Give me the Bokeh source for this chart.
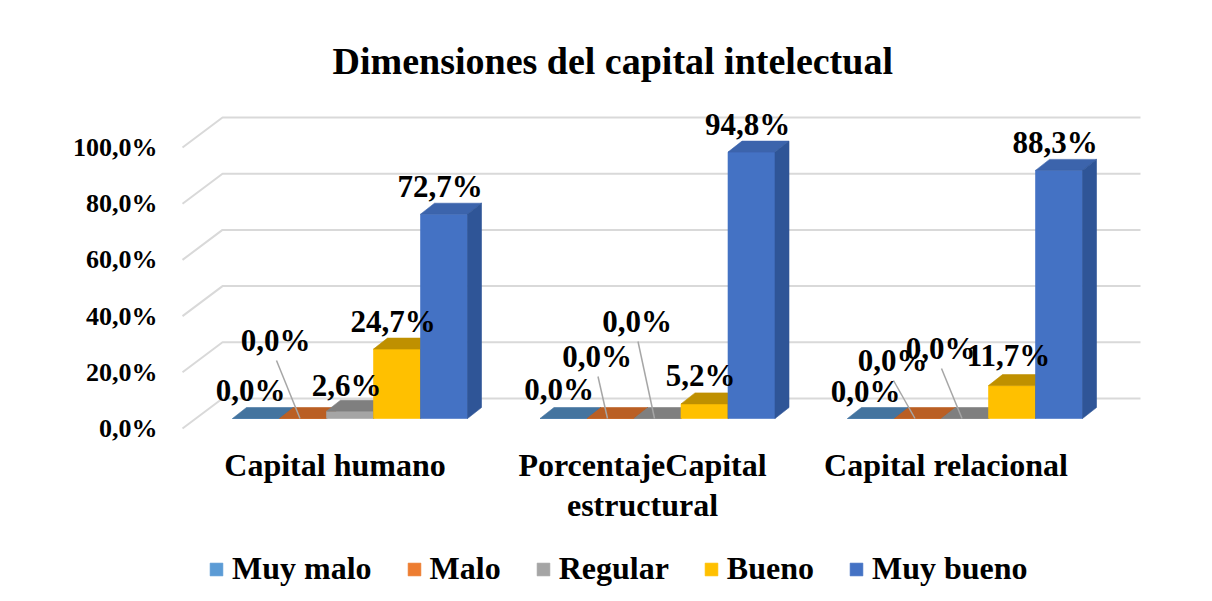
from bokeh.plotting import figure
from bokeh.models import Range1d, LinearAxis, FixedTicker, Legend, LegendItem, ColumnDataSource
from bokeh.core.properties import value
from bokeh.embed import file_html
from bokeh.resources import INLINE

# ---------------- data ----------------
categories = ["Capital humano", "PorcentajeCapital\nestructural", "Capital  relacional"]
series_names = ["Muy malo", "Malo", "Regular", "Bueno", "Muy bueno"]
muy_malo = [0.0, 0.0, 0.0]
malo = [0.0, 0.0, 0.0]
regular = [2.6, 0.0, 0.0]
bueno = [24.7, 5.2, 11.7]
muy_bueno = [72.7, 94.8, 88.3]
series_values = [muy_malo, malo, regular, bueno, muy_bueno]
y_ticks = [0, 20, 40, 60, 80, 100]
y_tick_labels = ["0,0%", "20,0%", "40,0%", "60,0%", "80,0%", "100,0%"]

# ---------------- styles ----------------
front_colors = ["#5B9BD5", "#ED7D31", "#A5A5A5", "#FFC000", "#4472C4"]
top_colors = ["#44749F", "#BA5F24", "#7F7F7F", "#BF9000", "#3C64AC"]
side_colors = ["#3A6690", "#A4541F", "#6E6E6E", "#A67D00", "#2F5597"]
FONT = value("Liberation Serif")

# label nudges (screen px) for labels Excel moved to avoid overlap
label_nudge_x = [[-1.5, -0.5, -1.5], [-23.5, -9.5, -21.5], [0.5, -16.5, -20.5], [0, 0, 0.5], [0, 0, 0]]
label_nudge_y = [[0, -1, 1], [-50, -34, -30], [2, -69, -42], [0, 0, -2], [0, 0, 0]]

# ---------------- geometry (pixel scale of the pseudo-3D view) ----------------
PX_X = 47.0      # px per bar width
PX_Y = 2.81      # px per percent
GROUP_STEP = 307.5 / PX_X
DEPTH_X = 14 / PX_X
DEPTH_Y = 11 / PX_Y
WALL_FRONT_DY = -10 / PX_Y
WALL_BACK_DY = 20 / PX_Y
WALL_X_FRONT = -50 / PX_X
WALL_X_BACK = -10 / PX_X
WALL_X_RIGHT = 908 / PX_X

W, H = 1204, 593
FL, FT = 175, 98          # frame left / top
X0, Y0 = 232, 418         # where bar 0 starts / value 0 sits
x_start, x_end = (FL - X0) / PX_X, (W - X0) / PX_X
y_start, y_end = (Y0 - H) / PX_Y, (Y0 - FT) / PX_Y

p = figure(width=W, height=H, output_backend="svg", toolbar_location=None,
           x_range=Range1d(x_start, x_end), y_range=Range1d(y_start, y_end),
           x_axis_location=None, y_axis_location=None,
           min_border_left=FL, min_border_right=0, min_border_top=FT, min_border_bottom=0)
p.outline_line_color = None
p.background_fill_color = "white"
p.border_fill_color = "white"
p.grid.visible = False

# title
p.title.text = "Dimensiones del capital intelectual"
p.title.text_font = "Liberation Serif"
p.title.text_font_style = "bold"
p.title.text_font_size = "38px"
p.title.text_color = "black"
p.title.align = "left"
p.title.offset = 157
p.title.standoff = 33

# y axis on the front wall
p.extra_y_ranges = {"front": Range1d(y_start - WALL_FRONT_DY, y_end - WALL_FRONT_DY)}
yaxis = LinearAxis(y_range_name="front", ticker=FixedTicker(ticks=y_ticks))
yaxis.major_label_overrides = {t: l for t, l in zip(y_ticks, y_tick_labels)}
yaxis.axis_line_color = None
yaxis.major_tick_line_color = None
yaxis.minor_tick_line_color = None
yaxis.major_tick_out = 0
yaxis.major_tick_in = 0
yaxis.major_label_standoff = 18
yaxis.major_label_text_font = "Liberation Serif"
yaxis.major_label_text_font_style = "bold"
yaxis.major_label_text_font_size = "26px"
yaxis.major_label_text_color = "black"
p.add_layout(yaxis, "left")

# gridlines: side wall diagonal + back wall horizontal
grid_xs = [[WALL_X_FRONT, WALL_X_BACK, WALL_X_RIGHT] for t in y_ticks]
grid_ys = [[t + WALL_FRONT_DY, t + WALL_BACK_DY, t + WALL_BACK_DY] for t in y_ticks]
p.multi_line(grid_xs, grid_ys, line_color="#D9D9D9", line_width=2)

# bars
legend_items = []
for j, (name, vals) in enumerate(zip(series_names, series_values)):
    lefts = [g * GROUP_STEP + j for g in range(len(categories))]
    centers = [l + 0.5 for l in lefts]
    r = p.vbar(x=centers, top=vals, bottom=0, width=1.0,
               fill_color=front_colors[j], line_color=front_colors[j], line_width=0.6)
    legend_items.append(LegendItem(label=name, renderers=[r]))
    top_xs = [[l, l + 1, l + 1 + DEPTH_X, l + DEPTH_X] for l in lefts]
    top_ys = [[v, v, v + DEPTH_Y, v + DEPTH_Y] for v in vals]
    p.patches(top_xs, top_ys, fill_color=top_colors[j], line_color=top_colors[j], line_width=0.6)
    side_xs = [[l + 1, l + 1, l + 1 + DEPTH_X, l + 1 + DEPTH_X] for l in lefts]
    side_ys = [[0, v, v + DEPTH_Y, DEPTH_Y] for v in vals]
    p.patches(side_xs, side_ys, fill_color=side_colors[j], line_color=side_colors[j], line_width=0.6)

# data labels + leader lines
lx, ly, ltext, xo, yo = [], [], [], [], []
sx0, sy0, sx1, sy1 = [], [], [], []
for j, vals in enumerate(series_values):
    for g, v in enumerate(vals):
        c = g * GROUP_STEP + j + 0.5
        nx, ny = label_nudge_x[j][g], label_nudge_y[j][g]
        lx.append(c)
        ly.append(v)
        ltext.append(f"{v:.1f}%".replace(".", ","))
        xo.append(-4 + nx)
        yo.append(-28 + ny)
        if ny < -20:
            sx0.append(c + (-4 + nx + 1) / PX_X)
            sy0.append(v - (-28 + ny + 20) / PX_Y)
            sx1.append(c - 3 / PX_X)
            sy1.append(v)
p.segment(x0=sx0, y0=sy0, x1=sx1, y1=sy1, line_color="#A6A6A6", line_width=1.5)
lab_src = ColumnDataSource(dict(x=lx, y=ly, text=ltext, xo=xo, yo=yo))
p.text(x="x", y="y", text="text", x_offset="xo", y_offset="yo", source=lab_src,
       text_font=FONT, text_font_style="bold", text_font_size="31px",
       text_align="center", text_baseline="middle", text_color="black")

# category labels
cat_x = [g * GROUP_STEP + 2.5 - 15 / PX_X for g in range(len(categories))]
p.text(x=cat_x, y=[0] * len(categories), text=categories, y_offset=28,
       text_font=FONT, text_font_style="bold", text_font_size="32px",
       text_align="center", text_baseline="top", text_line_height=1.12, text_color="black")

legend = Legend(items=legend_items, orientation="horizontal", location=(33, 6),
                glyph_width=16, glyph_height=16, label_standoff=8, spacing=34,
                padding=0, margin=0, border_line_color=None, background_fill_alpha=0,
                label_text_font="Liberation Serif", label_text_font_style="bold",
                label_text_font_size="32px", label_text_color="black")
p.add_layout(legend, "center")

open("out.html", "w").write(file_html(p, INLINE))
